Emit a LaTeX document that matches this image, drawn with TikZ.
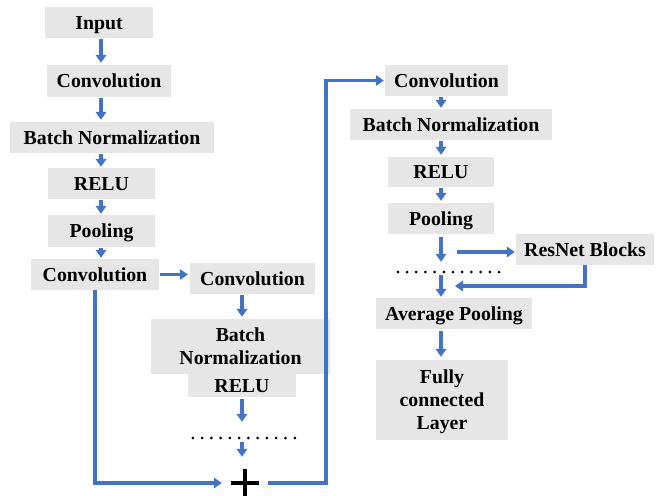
\documentclass[tikz,border=0pt]{standalone}
\usepackage{fontspec}
\setmainfont{Liberation Serif}
\usetikzlibrary{arrows.meta,calc}
\definecolor{boxgray}{HTML}{E7E6E6}
\definecolor{arrblue}{HTML}{4472C4}
\begin{document}
\begin{tikzpicture}[x=1pt,y=-1pt,
  box/.style={fill=boxgray, inner sep=0pt, align=center,
    text height=13.1pt, text depth=0pt,
    font=\fontsize{19.8}{23}\selectfont\bfseries},
  arr/.style={draw=arrblue, line width=3.2pt, -{Triangle[length=8pt,width=10.5pt]}},
  dotrow/.style={inner sep=0pt, minimum height=6pt},
  plusmark/.style={line width=3.8pt, draw=black}]
\useasboundingbox (0,0) rectangle (657,496);
% left column
\node[box, minimum width=108pt, minimum height=31pt] (Input) at (99,22.5) {Input};
\node[box, minimum width=124pt, minimum height=32pt] (Conv1) at (109,81) {Convolution};
\node[box, minimum width=204pt, minimum height=31pt] (BN1) at (112,137.5) {Batch Normalization};
\node[box, minimum width=107pt, minimum height=31pt] (RELU1) at (101.5,183.5) {RELU};
\node[box, minimum width=107pt, minimum height=32pt] (Pool1) at (101.5,231) {Pooling};
\node[box, minimum width=128pt, minimum height=31pt] (Conv2) at (95,274.5) {Convolution};
% middle column
\node[box, minimum width=125pt, minimum height=31pt] (Conv3) at (252.5,278.5) {Convolution};
\node[box, text height=36.1pt, minimum width=179pt, minimum height=55pt] (BNw) at (240.5,346.5) {Batch\\Normalization};
\node[box, minimum width=108pt, minimum height=23pt] (RELU2) at (242,385.5) {RELU};
\node[dotrow, minimum width=102pt] (dotsL) at (244,438) {};
\node[inner sep=0pt, minimum width=28pt, minimum height=28pt] (plus) at (245,483) {};
% right column
\node[box, minimum width=123pt, minimum height=31pt] (Conv4) at (446.5,80.5) {Convolution};
\node[box, minimum width=202pt, minimum height=31pt] (BN2) at (451,124.5) {Batch Normalization};
\node[box, minimum width=106pt, minimum height=30pt] (RELU3) at (441,172) {RELU};
\node[box, minimum width=106pt, minimum height=31pt] (Pool3) at (441,218.5) {Pooling};
\node[box, minimum width=138pt, minimum height=31pt] (ResNet) at (585,249.5) {ResNet Blocks};
\node[dotrow, minimum width=102pt] (dotsR) at (449,272) {};
\node[box, minimum width=156pt, minimum height=31pt] (AvgPool) at (454,313.5) {Average Pooling};
\node[box, text height=59.1pt, minimum width=132pt, minimum height=80pt] (FC) at (442,400) {Fully\\connected\\Layer};
% dots and plus
\foreach \i in {0,...,11} \fill (dotsL.west) ++(9.27*\i,0) circle (1.5pt);
\foreach \i in {0,...,11} \fill (dotsR.west) ++(9.2*\i,0) circle (1.5pt);
\draw[plusmark] (plus.west) -- (plus.east);
\draw[plusmark] (plus.north) -- (plus.south);
% coordinates
\coordinate (cL) at (101,0);
\coordinate (cM) at (242,0);
\coordinate (rt) at (326,0);
\coordinate (pb) at (457,252);
\coordinate (rj) at (455,286);
% left arrows
\draw[arr, shorten <=1pt, shorten >=2pt] (Input.south -| cL) -- (Conv1.north -| cL);
\draw[arr, shorten <=1pt, shorten >=2pt] (Conv1.south -| cL) -- (BN1.north -| cL);
\draw[arr, shorten <=1pt, shorten >=1pt] (BN1.south -| cL) -- (RELU1.north -| cL);
\draw[arr, shorten <=1pt, shorten >=1pt] (RELU1.south -| cL) -- (Pool1.north -| cL);
\draw[arr, shorten <=1pt, shorten >=1pt] (Pool1.south -| cL) -- (Conv2.north -| cL);
\draw[arr, shorten <=1pt, shorten >=2pt] (Conv2.east) -- (Conv3.west |- Conv2.east);
\draw[arr, shorten <=1pt, shorten >=2pt] (Conv3.south -| cM) -- (BNw.north -| cM);
\draw[arr, shorten <=2pt, shorten >=13pt] (RELU2.south -| cM) -- (dotsL.north -| cM);
\draw[arr, shorten <=1pt, shorten >=12pt] (dotsL.south -| cM) -- (plus.north -| cM);
\draw[arr, shorten >=9pt] (Conv2.south) -- (Conv2.south |- plus) -- (plus.west);
\draw[arr, shorten <=9pt, shorten >=1pt] (plus.east) -- (plus.east -| rt) -- (rt |- Conv4.west) -- (Conv4.west);
% right arrows
\draw[arr, shorten <=1pt, shorten >=1pt] (Conv4.south -| RELU3) -- (BN2.north -| RELU3);
\draw[arr, shorten <=1pt, shorten >=2pt] (BN2.south -| RELU3) -- (RELU3.north);
\draw[arr, shorten <=1pt, shorten >=2pt] (RELU3.south) -- (Pool3.north);
\draw[arr, shorten <=3pt, shorten >=7pt] (Pool3.south) -- (dotsR.north -| Pool3);
\draw[arr, shorten >=1pt] (dotsR.south -| Pool3) -- (AvgPool.north -| Pool3);
\draw[arr, shorten >=1pt] (pb) -- (ResNet.west |- pb);
\draw[arr] (ResNet.south) -- (ResNet.south |- rj) -- (rj);
\draw[arr, shorten <=2pt, shorten >=3pt] (AvgPool.south -| Pool3) -- (FC.north -| Pool3);
\end{tikzpicture}
\end{document}
